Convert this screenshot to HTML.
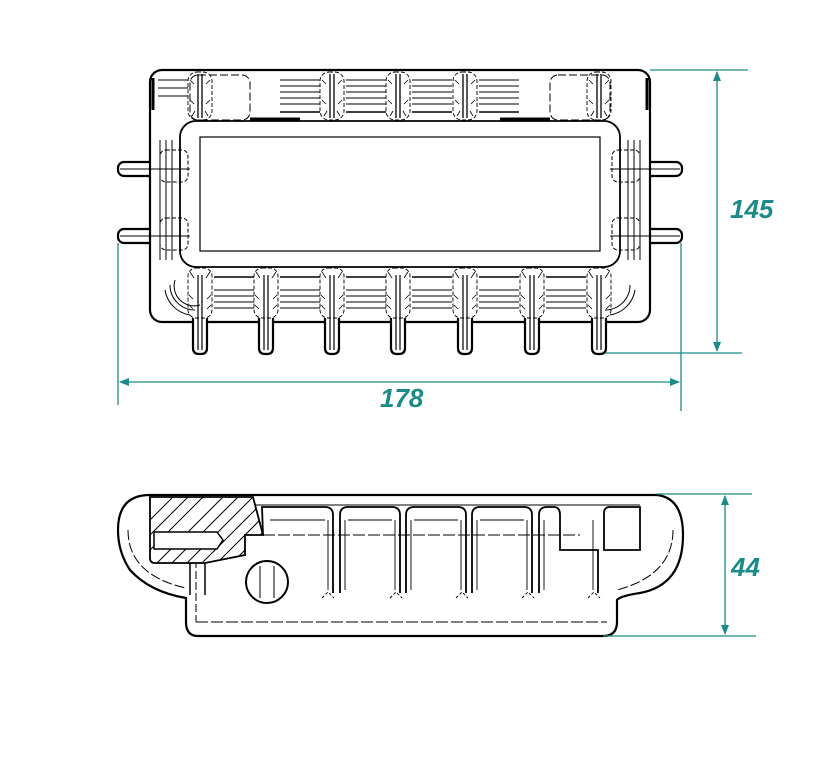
<!DOCTYPE html>
<html><head><meta charset="utf-8"><style>
html,body{margin:0;padding:0;background:#fff;}
svg{display:block}
text{font-family:"Liberation Sans",sans-serif;font-weight:bold;font-style:italic;fill:#1c8a86;font-size:26px}
</style></head><body>
<svg width="819" height="768" viewBox="0 0 819 768" xmlns="http://www.w3.org/2000/svg">
<defs>
<marker id="ar" markerWidth="10" markerHeight="8" refX="9" refY="4" orient="auto-start-reverse" markerUnits="userSpaceOnUse">
<path d="M0,0 L10,4 L0,8 z" fill="#1c8a86"/></marker>
<g id="tooth">
<path d="M-7,318 L-7,348 Q-7,354 -1,354 L1,354 Q7,354 7,348 L7,318" fill="#fff" stroke="#000" stroke-width="2.2"/>
<line x1="-2" y1="275" x2="-2" y2="350" stroke="#000" stroke-width="1.2"/>
<line x1="2" y1="275" x2="2" y2="350" stroke="#000" stroke-width="1.2"/>
<rect x="-12" y="268" width="24" height="50" rx="8" fill="none" stroke="#000" stroke-width="0.9" stroke-dasharray="4,2"/>
<path d="M-10,272 l4,6 M10,272 l-4,6 M-11,295 l4,4 M11,295 l-4,4 M-11,305 l4,4 M11,305 l-4,4" stroke="#000" stroke-width="0.8"/>
</g>
<g id="post">
<line x1="-2" y1="74" x2="-2" y2="118" stroke="#000" stroke-width="1.3"/>
<line x1="2" y1="74" x2="2" y2="118" stroke="#000" stroke-width="1.3"/>
<rect x="-12" y="72" width="24" height="48" rx="9" fill="none" stroke="#000" stroke-width="0.9" stroke-dasharray="4,2"/>
<path d="M-10,80 l4,4 M10,80 l-4,4 M-10,100 l4,4 M10,100 l-4,4 M-8,116 l3,-5 M8,116 l-3,-5" stroke="#000" stroke-width="0.8"/>
</g>
<g id="hb">
<line x1="0" y1="80" x2="40" y2="80"/><line x1="0" y1="86" x2="40" y2="86"/>
<line x1="0" y1="92" x2="40" y2="92"/><line x1="0" y1="98" x2="40" y2="98"/>
<line x1="0" y1="104" x2="40" y2="104"/>
<line x1="0" y1="112" x2="40" y2="112" stroke-width="1.6"/>
</g>
<g id="hb2">
<line x1="0" y1="277" x2="40" y2="277" stroke-width="1.6"/><line x1="0" y1="290" x2="40" y2="290"/>
<line x1="0" y1="296" x2="40" y2="296"/><line x1="0" y1="302" x2="40" y2="302"/>
<line x1="0" y1="308" x2="40" y2="308"/>
</g>
</defs>

<!-- TOP VIEW -->
<g fill="#fff" stroke="#000" stroke-width="2.2">
<rect x="118" y="162" width="40" height="14" rx="6"/>
<rect x="118" y="229" width="40" height="14" rx="6"/>
<rect x="642" y="162" width="40" height="14" rx="6"/>
<rect x="642" y="229" width="40" height="14" rx="6"/>
<rect x="150" y="70" width="500" height="252" rx="12"/>
</g>
<g stroke="#000" stroke-width="1">
<line x1="120" y1="169" x2="190" y2="169"/><line x1="120" y1="236" x2="190" y2="236"/>
<line x1="610" y1="169" x2="680" y2="169"/><line x1="610" y1="236" x2="680" y2="236"/>
<rect x="160" y="150" width="28" height="32" rx="6" fill="none" stroke-dasharray="4,2"/>
<rect x="160" y="218" width="28" height="32" rx="6" fill="none" stroke-dasharray="4,2"/>
<rect x="612" y="150" width="28" height="32" rx="6" fill="none" stroke-dasharray="4,2"/>
<rect x="612" y="218" width="28" height="32" rx="6" fill="none" stroke-dasharray="4,2"/>
</g>
<use href="#tooth" x="200"/><use href="#tooth" x="266"/><use href="#tooth" x="332"/>
<use href="#tooth" x="398"/><use href="#tooth" x="465"/><use href="#tooth" x="532"/><use href="#tooth" x="599"/>
<use href="#post" x="200"/><use href="#post" x="332"/>
<use href="#post" x="398"/><use href="#post" x="465"/><use href="#post" x="599"/>
<g stroke="#000" stroke-width="1">
<use href="#hb" x="346"/><use href="#hb" x="412"/><use href="#hb" x="479"/><use href="#hb" x="280" />
<use href="#hb2" x="214"/><use href="#hb2" x="280"/><use href="#hb2" x="346"/><use href="#hb2" x="412"/><use href="#hb2" x="479"/><use href="#hb2" x="546"/>
<line x1="158" y1="80" x2="188" y2="80"/><line x1="158" y1="88" x2="188" y2="88"/><line x1="158" y1="96" x2="188" y2="96"/>
<line x1="160" y1="140" x2="160" y2="260"/><line x1="166" y1="140" x2="166" y2="260"/><line x1="172" y1="140" x2="172" y2="260"/>
<line x1="628" y1="140" x2="628" y2="260"/><line x1="634" y1="140" x2="634" y2="260"/><line x1="640" y1="140" x2="640" y2="260"/>
<path d="M165,290 A30,30 0 0 0 190,315 M170,285 A25,25 0 0 0 195,310 M175,280 A20,20 0 0 0 200,305" fill="none"/>
<path d="M635,290 A30,30 0 0 1 610,315 M630,285 A25,25 0 0 1 605,310" fill="none"/>
<line x1="153" y1="78" x2="153" y2="110" stroke-width="3"/>
<line x1="647" y1="78" x2="647" y2="110" stroke-width="3"/>
</g>
<g fill="none" stroke="#000">
<rect x="180" y="121" width="440" height="146" rx="16" stroke-width="1.8"/>
<rect x="200" y="137" width="400" height="114" stroke-width="1.2"/>
<rect x="190" y="75" width="60" height="45" rx="8" stroke-width="1" stroke-dasharray="8,3"/>
<rect x="550" y="75" width="60" height="45" rx="8" stroke-width="1" stroke-dasharray="8,3"/>
<line x1="250" y1="119" x2="300" y2="119" stroke-width="3"/>
<line x1="500" y1="119" x2="550" y2="119" stroke-width="3"/>
</g>

<!-- top dims -->
<g stroke="#1c8a86" stroke-width="1.3" fill="none">
<line x1="650" y1="70" x2="748" y2="70"/>
<line x1="606" y1="353" x2="742" y2="353"/>
<line x1="717" y1="72" x2="717" y2="351" marker-start="url(#ar)" marker-end="url(#ar)"/>
<line x1="118" y1="243" x2="118" y2="405"/>
<line x1="681" y1="243" x2="681" y2="411"/>
<line x1="120" y1="382" x2="679" y2="382" marker-start="url(#ar)" marker-end="url(#ar)"/>
</g>
<text x="730" y="218">145</text>
<text x="380" y="407">178</text>

<!-- SIDE VIEW -->
<g fill="#fff" stroke="#000" stroke-width="2.2">
<path d="M150,495 L657,495 Q683,498 683,535 Q683,585 640,593 Q620,596 617,600 L617,622 Q617,636 603,636 L198,636 Q186,636 186,622 L186,598 Q150,592 130,570 Q118,552 118,530 Q118,495 150,495 Z"/>
</g>
<g fill="none" stroke="#000" stroke-width="1">
<path d="M128,530 Q128,575 186,588" stroke-dasharray="10,3"/>
<path d="M673,530 Q673,575 617,590" stroke-dasharray="10,3"/>
<line x1="150" y1="505" x2="640" y2="505"/>
<line x1="196" y1="622" x2="607" y2="622" stroke-dasharray="12,3"/>
<line x1="196" y1="560" x2="196" y2="622" stroke-dasharray="8,3"/>
</g>
<g stroke="#000" stroke-width="1.8">
<path d="M150,497 L253,497 L263,535 L245,535 L245,555 L205,563 L155,563 Q150,563 150,558 Z" fill="#fff"/>
<clipPath id="cp"><path d="M150,497 L253,497 L263,535 L245,535 L245,555 L205,563 L155,563 Q150,563 150,558 Z"/></clipPath>
<g clip-path="url(#cp)" stroke-width="1">
<line x1="140" y1="530" x2="180" y2="490"/><line x1="140" y1="545" x2="195" y2="490"/>
<line x1="140" y1="560" x2="210" y2="490"/><line x1="150" y1="570" x2="230" y2="490"/>
<line x1="165" y1="570" x2="245" y2="490"/><line x1="180" y1="570" x2="260" y2="490"/>
<line x1="195" y1="570" x2="275" y2="490"/><line x1="210" y1="570" x2="290" y2="490"/>
<line x1="225" y1="570" x2="305" y2="490"/>
</g>
<path d="M154,532 L217,532 L223,540 L217,549 L154,549 Z" fill="#fff" stroke-width="1.5"/>
<path d="M190,563 L190,595 M205,563 L205,595" fill="none" stroke-width="1.5"/>
<circle cx="267" cy="582" r="21" fill="#fff" stroke-width="2"/>
<line x1="260" y1="566" x2="260" y2="598" stroke-width="1"/><line x1="274" y1="566" x2="274" y2="598" stroke-width="1"/>
</g>
<g fill="none" stroke="#000" stroke-width="1.8">
<path d="M263,535 L262,507 L325,507 Q333,507 333,515 L333,593"/>
<path d="M340,593 L340,515 Q340,507 348,507 L392,507 Q400,507 400,515 L400,593"/>
<path d="M406,593 L406,515 Q406,507 414,507 L458,507 Q466,507 466,515 L466,593"/>
<path d="M472,593 L472,515 Q472,507 480,507 L524,507 Q532,507 532,515 L532,593"/>
<path d="M539,593 L539,515 Q539,507 547,507 L554,507 Q560,507 560,515 L560,550 L598,550 L598,593"/>
<path d="M604,550 L604,513 Q604,507 610,507 L640,507 L640,550 Z"/>
</g>
<g fill="none" stroke="#000" stroke-width="0.9">
<line x1="270" y1="520" x2="325" y2="520"/><line x1="348" y1="520" x2="392" y2="520"/>
<line x1="414" y1="520" x2="458" y2="520"/><line x1="480" y1="520" x2="524" y2="520"/>
<line x1="263" y1="535" x2="580" y2="535" stroke-dasharray="12,3"/>
<line x1="328" y1="520" x2="328" y2="590"/><line x1="345" y1="520" x2="345" y2="590"/>
<line x1="395" y1="520" x2="395" y2="590"/><line x1="411" y1="520" x2="411" y2="590"/>
<line x1="461" y1="520" x2="461" y2="590"/><line x1="477" y1="520" x2="477" y2="590"/>
<line x1="527" y1="520" x2="527" y2="590"/><line x1="544" y1="520" x2="544" y2="590"/>
<line x1="593" y1="520" x2="593" y2="590"/>
<path d="M322,598 l6,-6 l6,6 M390,598 l6,-6 l6,6 M456,598 l6,-6 l6,6 M522,598 l6,-6 l6,6 M588,598 l6,-6 l6,6" stroke-dasharray="3,2"/>
</g>
<g stroke="#1c8a86" stroke-width="1.3" fill="none">
<line x1="657" y1="494" x2="752" y2="494"/>
<line x1="603" y1="636" x2="756" y2="636"/>
<line x1="725" y1="496" x2="725" y2="634" marker-start="url(#ar)" marker-end="url(#ar)"/>
</g>
<text x="731" y="576">44</text>
</svg>
</body></html>
